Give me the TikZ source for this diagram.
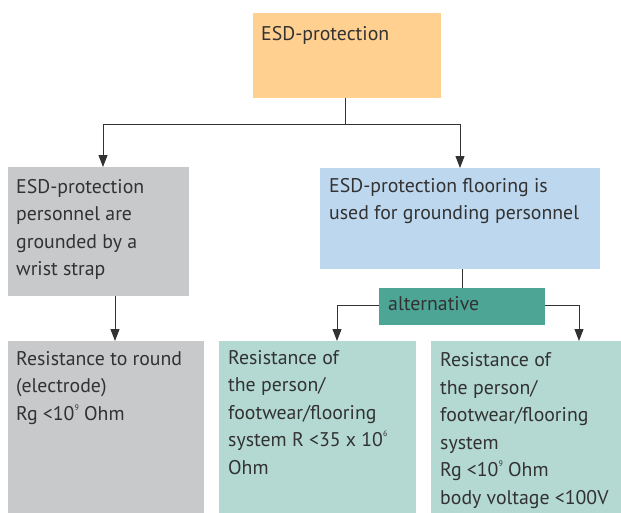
\documentclass[tikz,border=0pt]{standalone}
\usepackage{fontspec}
\setmainfont{PT Sans}
\usetikzlibrary{arrows.meta,calc}
\definecolor{corange}{RGB}{255,208,143}
\definecolor{cgray}{RGB}{200,201,203}
\definecolor{cblue}{RGB}{189,215,238}
\definecolor{cteal}{RGB}{77,165,150}
\definecolor{cltteal}{RGB}{179,217,210}
\definecolor{ctext}{RGB}{50,50,50}
\newcommand\spx[1]{\raisebox{0.5em}{\fontsize{8}{8}\selectfont #1}}
\begin{document}
\begin{tikzpicture}[x=1pt,y=-1pt,
  box/.style={draw=none,inner sep=0pt,outer sep=0pt,anchor=north west},
  txt/.style={inner sep=0pt,anchor=base west,align=left,text=ctext,
    font=\fontsize{19.8}{27.5}\selectfont},
  conn/.style={draw=ctext,line width=0.9pt},
  arr/.style={conn,-{Triangle[length=12pt,width=9pt]}}]
\useasboundingbox (0,0) rectangle (621,512);
% boxes
\node[box,fill=corange,minimum width=188pt,minimum height=85pt] (top) at (253,13) {};
\node[box,fill=cgray,minimum width=181pt,minimum height=129pt] (lg) at (8,167) {};
\node[box,fill=cblue,minimum width=280pt,minimum height=101pt] (bl) at (320,168) {};
\node[box,fill=cteal,minimum width=166pt,minimum height=37pt] (alt) at (379,288) {};
\node[box,fill=cgray,minimum width=196pt,minimum height=172pt] (bg) at (8,341) {};
\node[box,fill=cltteal,minimum width=197pt,minimum height=172pt] (bm) at (219,341) {};
\node[box,fill=cltteal,minimum width=191pt,minimum height=172pt] (br) at (431,341) {};
% texts (anchored at the baseline of the last line)
\node[txt] (ttop) at (261,40) {ESD-protection};
\node[txt] (tlg) at (16,275.5) {ESD-protection\\personnel are\\grounded by a\\wrist strap};
\node[txt] (tbl) at (329,219.5) {ESD-protection flooring is\\used for grounding personnel};
\node[txt] (talt) at (388,310) {alternative};
\node[txt] (tbg) at (16,420) {Resistance to round\\(electrode)\\Rg <10\spx{9} Ohm};
\node[txt] (tbm) at (228,474) {Resistance of\\the person/\\footwear/flooring\\system R <35 x 10\spx{6}\\Ohm};
\node[txt] (tbr) at (440,504) {Resistance of\\the person/\\footwear/flooring\\system\\Rg <10\spx{9} Ohm\\body voltage <100V};
% connectors
\coordinate (j) at (345,124);
\draw[conn] (top.south -| j) -- (j);
\draw[arr] (j) -| (lg.north -| 103,0);
\draw[arr] (j) -| (bl.north -| 460,0);
\draw[conn] (bl.south -| 462,0) -- (alt.north -| 462,0);
\draw[arr] (alt.west |- 0,305) -| (bm.north -| 337,0);
\draw[arr] (alt.east |- 0,305) -| (br.north -| 579,0);
\draw[arr] (lg.south -| 115,0) -- (bg.north -| 115,0);
\end{tikzpicture}
\end{document}
